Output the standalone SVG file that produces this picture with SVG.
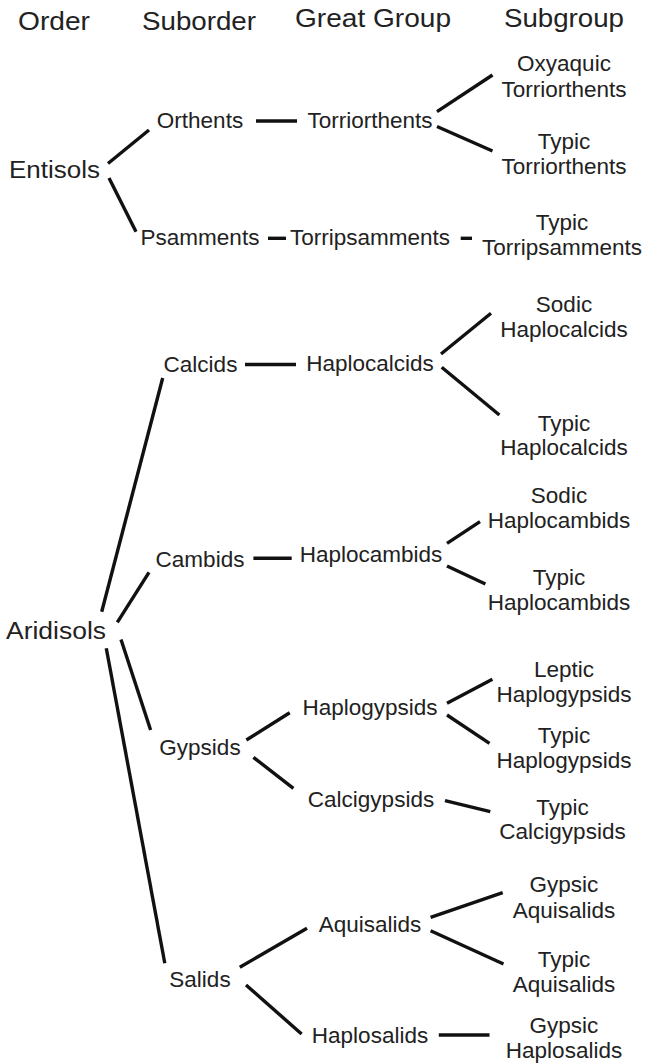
<svg xmlns="http://www.w3.org/2000/svg" width="646" height="1063" viewBox="0 0 646 1063">
<style>
text{font-family:"Liberation Sans",Arial,sans-serif;fill:#222;text-anchor:middle}
.h{font-size:26px}
.n{font-size:22.5px}
.o{font-size:23px;text-anchor:start}
#connectors line{stroke:#111;stroke-width:3.4;fill:none}
</style>
<rect width="646" height="1063" fill="#fff"/>
<g id="headers">
<text class="h" x="54" y="30" textLength="72" lengthAdjust="spacingAndGlyphs">Order</text>
<text class="h" x="199" y="30" textLength="114" lengthAdjust="spacingAndGlyphs">Suborder</text>
<text class="h" x="373" y="27" textLength="156" lengthAdjust="spacingAndGlyphs">Great Group</text>
<text class="h" x="564" y="27" textLength="120" lengthAdjust="spacingAndGlyphs">Subgroup</text>
</g>
<g id="connectors">
<line x1="108" y1="163.5" x2="149" y2="130"/>
<line x1="109" y1="178" x2="136" y2="231.7"/>
<line x1="256" y1="121" x2="297" y2="121"/>
<line x1="437" y1="111.7" x2="492.5" y2="75"/>
<line x1="437" y1="126.5" x2="492.5" y2="151"/>
<line x1="268" y1="238.3" x2="286" y2="238.3"/>
<line x1="460.7" y1="238.3" x2="472" y2="238.3"/>
<line x1="162.7" y1="378" x2="101.7" y2="611.7"/>
<line x1="245" y1="364.5" x2="296" y2="364.5"/>
<line x1="441" y1="354" x2="491" y2="313.3"/>
<line x1="441.7" y1="367.3" x2="499.4" y2="415"/>
<line x1="149" y1="572.3" x2="117.3" y2="622.3"/>
<line x1="253.4" y1="558.3" x2="291.7" y2="558.3"/>
<line x1="447" y1="543.3" x2="480" y2="521.7"/>
<line x1="447" y1="566" x2="485.4" y2="584"/>
<line x1="121" y1="639.5" x2="150.6" y2="730"/>
<line x1="106.3" y1="648.3" x2="164.8" y2="963.3"/>
<line x1="246.4" y1="740" x2="289.7" y2="712.7"/>
<line x1="253.4" y1="757.3" x2="293.4" y2="788.3"/>
<line x1="447" y1="703.3" x2="492.4" y2="679.3"/>
<line x1="447" y1="715" x2="489.5" y2="743.3"/>
<line x1="445" y1="800.7" x2="490.3" y2="811.7"/>
<line x1="239.8" y1="967.3" x2="307" y2="928.3"/>
<line x1="246" y1="985" x2="301.6" y2="1034"/>
<line x1="430.6" y1="917.3" x2="502.7" y2="892.7"/>
<line x1="430.6" y1="930.7" x2="503.5" y2="964"/>
<line x1="438.8" y1="1035" x2="489.5" y2="1035"/>
</g>
<g id="entisols"><text class="o" x="9" y="178" textLength="91" lengthAdjust="spacingAndGlyphs">Entisols</text></g>
<g id="orthents"><text class="n" x="200" y="128">Orthents</text></g>
<g id="torriorthents"><text class="n" x="370" y="128">Torriorthents</text></g>
<g id="oxyaquic-torriorthents"><text class="n" x="564" y="71">Oxyaquic</text><text class="n" x="564" y="97">Torriorthents</text></g>
<g id="typic-torriorthents"><text class="n" x="564" y="149">Typic</text><text class="n" x="564" y="174">Torriorthents</text></g>
<g id="psamments"><text class="n" x="200" y="245">Psamments</text></g>
<g id="torripsamments"><text class="n" x="370" y="245">Torripsamments</text></g>
<g id="typic-torripsamments"><text class="n" x="562" y="230">Typic</text><text class="n" x="562" y="255">Torripsamments</text></g>
<g id="aridisols"><text class="o" x="6" y="639" textLength="100" lengthAdjust="spacingAndGlyphs">Aridisols</text></g>
<g id="calcids"><text class="n" x="200.5" y="372">Calcids</text></g>
<g id="haplocalcids"><text class="n" x="370" y="370.5">Haplocalcids</text></g>
<g id="sodic-haplocalcids"><text class="n" x="564" y="312">Sodic</text><text class="n" x="564" y="337">Haplocalcids</text></g>
<g id="typic-haplocalcids"><text class="n" x="564" y="431">Typic</text><text class="n" x="564" y="455">Haplocalcids</text></g>
<g id="cambids"><text class="n" x="200" y="566.5">Cambids</text></g>
<g id="haplocambids"><text class="n" x="371" y="561.7">Haplocambids</text></g>
<g id="sodic-haplocambids"><text class="n" x="559" y="502.7">Sodic</text><text class="n" x="559" y="528.3">Haplocambids</text></g>
<g id="typic-haplocambids"><text class="n" x="559" y="585">Typic</text><text class="n" x="559" y="610">Haplocambids</text></g>
<g id="gypsids"><text class="n" x="200" y="754.5">Gypsids</text></g>
<g id="haplogypsids"><text class="n" x="370" y="715">Haplogypsids</text></g>
<g id="leptic-haplogypsids"><text class="n" x="564" y="677">Leptic</text><text class="n" x="564" y="702">Haplogypsids</text></g>
<g id="typic-haplogypsids"><text class="n" x="564" y="743">Typic</text><text class="n" x="564" y="768">Haplogypsids</text></g>
<g id="calcigypsids"><text class="n" x="371" y="806.7">Calcigypsids</text></g>
<g id="typic-calcigypsids"><text class="n" x="562.5" y="815">Typic</text><text class="n" x="562.5" y="838.5">Calcigypsids</text></g>
<g id="salids"><text class="n" x="200" y="986.7">Salids</text></g>
<g id="aquisalids"><text class="n" x="370" y="931.7">Aquisalids</text></g>
<g id="gypsic-aquisalids"><text class="n" x="564" y="891.7">Gypsic</text><text class="n" x="564" y="918.3">Aquisalids</text></g>
<g id="typic-aquisalids"><text class="n" x="564" y="966.7">Typic</text><text class="n" x="564" y="991.7">Aquisalids</text></g>
<g id="haplosalids"><text class="n" x="370" y="1043.3">Haplosalids</text></g>
<g id="gypsic-haplosalids"><text class="n" x="564" y="1033.3">Gypsic</text><text class="n" x="564" y="1058.3">Haplosalids</text></g>
</svg>
